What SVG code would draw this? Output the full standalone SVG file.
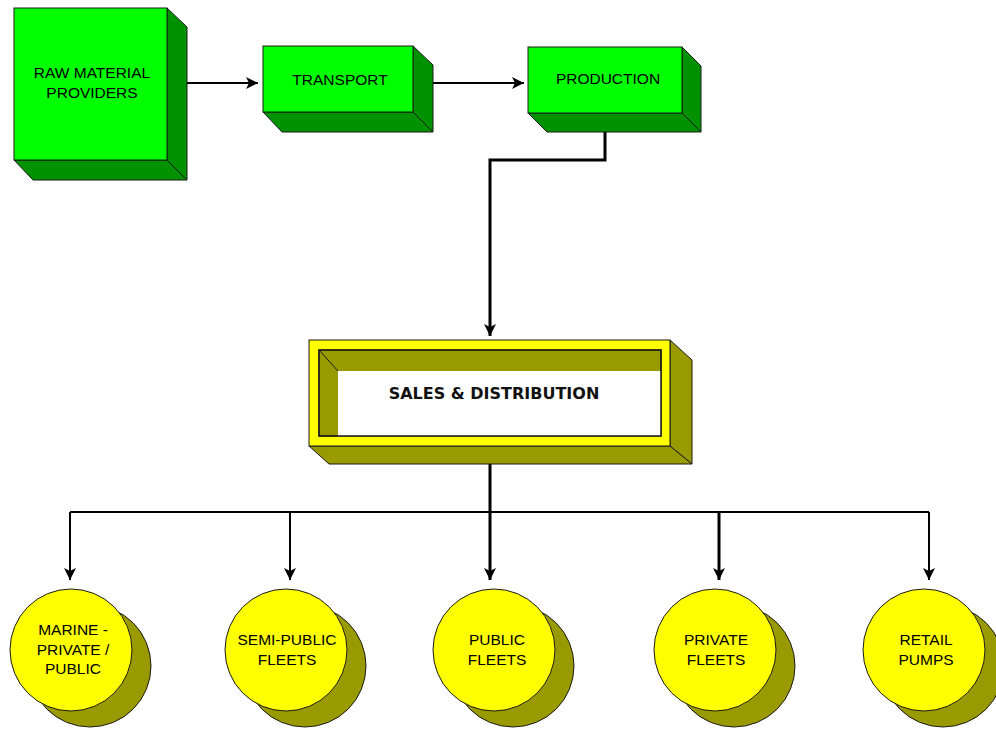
<svg xmlns="http://www.w3.org/2000/svg" width="996" height="729" viewBox="0 0 996 729">
<style>
.front{fill:#00FF00;stroke:#1a1a1a;stroke-width:1}
.side{fill:#009100;stroke:#1a1a1a;stroke-width:1}
.yel{fill:#FFFF00;stroke:#1a1a1a;stroke-width:1}
.olive{fill:#999900;stroke:#1a1a1a;stroke-width:1}
.lbl{font-family:"Liberation Sans",Arial,sans-serif;font-size:15.5px;fill:#000;text-anchor:middle}
.bold{font-family:"DejaVu Sans",Verdana,sans-serif;font-weight:bold;font-size:16px;fill:#111;text-anchor:middle}
.wire{fill:none;stroke:#000;stroke-width:2}
.thick{stroke-width:3}
</style>
<defs>
<marker id="arr" markerUnits="userSpaceOnUse" markerWidth="14" markerHeight="14" viewBox="0 0 14 14" refX="12" refY="7" orient="auto">
<path d="M0,1 L12,7 L0,13 L3,7 z" fill="#000"/>
</marker>
</defs>
<rect width="996" height="729" fill="#fff"/>

<g id="connectors">
<path class="wire" d="M187,83 H258" marker-end="url(#arr)"/>
<path class="wire" d="M433,83 H524" marker-end="url(#arr)"/>
<path class="wire thick" d="M605,122 V160 H490 V336" marker-end="url(#arr)"/>
<path class="wire" d="M70,512 H929"/>
<path class="wire thick" d="M490,464 V580" marker-end="url(#arr)"/>
<path class="wire" d="M70,512 V580" marker-end="url(#arr)"/>
<path class="wire" d="M290,512 V580" marker-end="url(#arr)"/>
<path class="wire thick" d="M719,512 V580" marker-end="url(#arr)"/>
<path class="wire" d="M929,512 V580" marker-end="url(#arr)"/>
</g>

<g id="raw-material">
<polygon class="side" points="167,8 187,27 187,180 167,160"/>
<polygon class="side" points="14,160 167,160 187,180 33,180"/>
<rect class="front" x="14" y="8" width="153" height="152"/>
<text class="lbl" x="92" y="78">RAW MATERIAL</text>
<text class="lbl" x="92" y="98">PROVIDERS</text>
</g>

<g id="transport">
<polygon class="side" points="413,46 433,65 433,132 413,112"/>
<polygon class="side" points="263,112 413,112 433,132 282,132"/>
<rect class="front" x="263" y="46" width="150" height="66"/>
<text class="lbl" x="340" y="85">TRANSPORT</text>
</g>

<g id="production">
<polygon class="side" points="682,47 701,66 701,132 682,113"/>
<polygon class="side" points="528,113 682,113 701,132 547,132"/>
<rect class="front" x="528" y="47" width="154" height="66"/>
<text class="lbl" x="608" y="84">PRODUCTION</text>
</g>

<g id="sales-distribution">
<polygon class="olive" points="670,340 692,360 692,464 670,446"/>
<polygon class="olive" points="309,446 670,446 692,464 329,464"/>
<rect class="yel" x="309" y="340" width="361" height="106"/>
<rect class="olive" x="319" y="350" width="342" height="86"/>
<rect x="338" y="371" width="323" height="65" fill="#fff"/>
<line x1="319" y1="350" x2="338" y2="371" stroke="#1a1a1a" stroke-width="1"/>
<rect x="319" y="350" width="342" height="86" fill="none" stroke="#1a1a1a" stroke-width="1.5"/>
<text class="bold" x="494" y="399">SALES &amp; DISTRIBUTION</text>
</g>

<g id="marine">
<circle class="olive" cx="90" cy="666" r="61"/>
<circle class="yel" cx="71" cy="650" r="61"/>
<text class="lbl" x="73" y="635">MARINE -</text>
<text class="lbl" x="73" y="655">PRIVATE /</text>
<text class="lbl" x="73" y="674">PUBLIC</text>
</g>

<g id="semi-public-fleets">
<circle class="olive" cx="305" cy="666" r="61"/>
<circle class="yel" cx="286" cy="650" r="61"/>
<text class="lbl" x="287" y="645">SEMI-PUBLIC</text>
<text class="lbl" x="287" y="665">FLEETS</text>
</g>

<g id="public-fleets">
<circle class="olive" cx="513" cy="666" r="61"/>
<circle class="yel" cx="494" cy="650" r="61"/>
<text class="lbl" x="497" y="645">PUBLIC</text>
<text class="lbl" x="497" y="665">FLEETS</text>
</g>

<g id="private-fleets">
<circle class="olive" cx="734" cy="666" r="61"/>
<circle class="yel" cx="715" cy="650" r="61"/>
<text class="lbl" x="716" y="645">PRIVATE</text>
<text class="lbl" x="716" y="665">FLEETS</text>
</g>

<g id="retail-pumps">
<circle class="olive" cx="943" cy="666" r="61"/>
<circle class="yel" cx="924" cy="650" r="61"/>
<text class="lbl" x="926" y="645">RETAIL</text>
<text class="lbl" x="926" y="665">PUMPS</text>
</g>
</svg>
